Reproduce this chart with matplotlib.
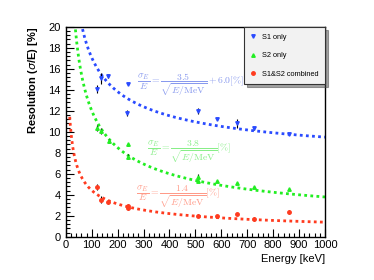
import numpy as np
import matplotlib
matplotlib.use("Agg")
import matplotlib.pyplot as plt
from matplotlib.ticker import MultipleLocator

plt.rcParams['font.family'] = ['Liberation Sans', 'DejaVu Sans']

# measured points (energy in keV, resolution in %)
s1_energy = [122, 135, 163, 239, 236, 511, 583, 662, 727, 861]
s1_res = [14.1, 15.1, 15.3, 14.6, 11.8, 12.0, 11.2, 10.8, 10.35, 9.8]
s1_err = [0.4, 0.5, 0.2, 0.1, 0.3, 0.3, 0.1, 0.4, 0.15, 0.1]

s2_energy = [122, 135, 166, 238, 238, 511, 511, 583, 662, 727, 861]
s2_res = [10.4, 10.1, 9.1, 8.8, 7.65, 5.75, 5.35, 5.35, 5.1, 4.75, 4.6]
s2_err = [0.3, 0.3, 0.2, 0.1, 0.2, 0.2, 0.1, 0.1, 0.1, 0.1, 0.1]

comb_energy = [121, 135, 163, 238, 238, 511, 583, 662, 727, 861]
comb_res = [4.75, 3.55, 3.3, 2.95, 2.75, 2.0, 2.0, 2.2, 1.7, 2.35]
comb_err = [0.3, 0.3, 0.2, 0.2, 0.15, 0.15, 0.1, 0.1, 0.2, 0.2]

# fit parameters: a / sqrt(E/MeV) + b
s1_fit = (3.5, 6.0)
s2_fit = (3.8, 0.0)
comb_fit = (1.4, 0.0)

blue = '#2a4bff'
green = '#22ee22'
red = '#ff3b1f'


def main():
    fig = plt.figure(figsize=(3.74, 2.8), dpi=100)
    ax = fig.add_axes([0.176, 0.154, 0.693, 0.750])

    e = np.linspace(15, 1000, 400)
    dots = (0, (1, 1.2))
    for (a, b), col in [(s1_fit, blue), (s2_fit, green), (comb_fit, red)]:
        ax.plot(e, a / np.sqrt(e / 1000.0) + b, color=col, lw=2, ls=dots, zorder=2)

    ax.errorbar(s1_energy, s1_res, yerr=s1_err, fmt='v', color=blue, ms=2.5,
                ecolor='black', elinewidth=0.8, capsize=0, zorder=3, label='S1 only')
    ax.errorbar(s2_energy, s2_res, yerr=s2_err, fmt='^', color=green, ms=2.5,
                ecolor='black', elinewidth=0.8, capsize=0, zorder=3, label='S2 only')
    ax.errorbar(comb_energy, comb_res, yerr=comb_err, fmt='o', color=red, ms=2.5,
                ecolor='black', elinewidth=0.8, capsize=0, zorder=3, label='S1&S2 combined')

    ax.set_xlim(0, 1000)
    ax.set_ylim(0, 20)
    ax.xaxis.set_major_locator(MultipleLocator(100))
    ax.xaxis.set_minor_locator(MultipleLocator(20))
    ax.yaxis.set_major_locator(MultipleLocator(2))
    ax.yaxis.set_minor_locator(MultipleLocator(0.4))
    ax.tick_params(which='both', direction='in', labelsize=8, top=False, right=False)
    ax.tick_params(which='major', length=6, width=0.8)
    ax.tick_params(which='minor', length=3, width=0.8)
    ax.tick_params(axis='x', pad=2)
    for sp in ax.spines.values():
        sp.set_linewidth(1.0)

    ax.set_xlabel('Energy [keV]', fontsize=8, loc='right', labelpad=3)
    ax.set_ylabel(r'Resolution ($\sigma$/E) [%]', fontsize=8, loc='top',
                  fontweight='bold', labelpad=6)

    ax.text(274, 14.5, r'$\dfrac{\sigma_E}{E} = \dfrac{3.5}{\sqrt{E/\mathrm{MeV}}} + 6.0[\%]$',
            color='#8899ee', fontsize=7, math_fontfamily='cm', va='center')
    ax.text(312, 8.1, r'$\dfrac{\sigma_E}{E} = \dfrac{3.8}{\sqrt{E/\mathrm{MeV}}}[\%]$',
            color='#88ee88', fontsize=7, math_fontfamily='cm', va='center')
    ax.text(270, 3.8, r'$\dfrac{\sigma_E}{E} = \dfrac{1.4}{\sqrt{E/\mathrm{MeV}}}[\%]$',
            color='#ff9a88', fontsize=7, math_fontfamily='cm', va='center')

    handles, labels = ax.get_legend_handles_labels()
    handles = [h[0] for h in handles]
    leg = ax.legend(handles, labels, loc='upper right', bbox_to_anchor=(1.0, 1.0),
                    fontsize=5.3, frameon=True, fancybox=False, shadow=True,
                    borderpad=0.9, labelspacing=1.55, handlelength=0.6,
                    handletextpad=0.9, borderaxespad=0)
    leg.get_frame().set_facecolor('#f2f2f2')
    leg.get_frame().set_edgecolor('#333333')
    leg.get_frame().set_linewidth(0.8)

    fig.savefig('out.png', dpi=100)
    plt.close(fig)


if __name__ == "__main__":
    main()
